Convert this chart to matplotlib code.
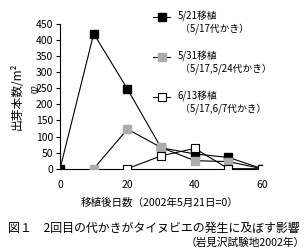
import matplotlib
matplotlib.use("Agg")
import numpy as np
import matplotlib.pyplot as plt
from matplotlib.legend_handler import HandlerLine2D

plt.rcParams['font.family'] = ['Noto Sans CJK JP', 'DejaVu Sans']

# データ
days_a = [0, 10, 20, 30, 40, 50, 60]
vals_a = [0, 420, 248, 65, 46, 35, 0]
days_b = [10, 20, 30, 40, 50, 60]
vals_b = [0, 123, 66, 25, 22, 0]
days_c = [20, 30, 40, 50, 60]
vals_c = [0, 40, 63, 0, 0]

label_a = "5/21移植\n （5/17代かき）"
label_b = "5/31移植\n （5/17,5/24代かき）"
label_c = "6/13移植\n （5/17,6/7代かき）"


# 凡例の記号を1行目の高さに寄せる
class UpHandler(HandlerLine2D):
    def create_artists(self, legend, orig_handle, xdescent, ydescent,
                       width, height, fontsize, trans):
        arts = super().create_artists(legend, orig_handle, xdescent, ydescent,
                                      width, height, fontsize, trans)
        for a in arts:
            a.set_ydata(np.asarray(a.get_ydata()) + 0.55 * fontsize)
        return arts


fig = plt.figure(figsize=(3.08, 2.49), dpi=100)
ax = fig.add_axes([0.195, 0.3225, 0.656, 0.581])

la, = ax.plot(days_a, vals_a, color='k', lw=0.8, marker='s', ms=5.8,
              mfc='k', mec='k', label=label_a, zorder=3)
lb, = ax.plot(days_b, vals_b, color='k', lw=0.8, marker='s', ms=5.8,
              mfc='#acacac', mec='#acacac', label=label_b, zorder=4)
lc, = ax.plot(days_c, vals_c, color='k', lw=0.8, marker='s', ms=5.8,
              mfc='white', mec='k', mew=0.8, label=label_c, zorder=5)

ax.set_xlim(0, 60)
ax.set_ylim(0, 450)
ax.set_xticks([0, 20, 40, 60])
ax.set_yticks(range(0, 451, 50))
ax.spines['top'].set_visible(False)
ax.spines['right'].set_visible(False)
ax.spines['left'].set_linewidth(0.8)
ax.spines['bottom'].set_linewidth(0.8)
ax.tick_params(axis='y', length=3, width=0.8, pad=2, labelsize=7.5)
ax.tick_params(axis='x', length=0, pad=8, labelsize=7.5)
for t in ax.get_xticklabels() + ax.get_yticklabels():
    t.set_clip_on(False)

ax.set_ylabel("出芽本数/m²", fontsize=8.5, labelpad=9)
fig.text(0.117, 0.645, "02", rotation=90, fontsize=6, ha='center', va='center')

fig.text(0.518, 0.185, "移植後日数（2002年5月21日=0）", fontsize=7.6, ha='center', va='center')
fig.text(0.025, 0.084, "図１　2回目の代かきがタイヌビエの発生に及ぼす影響",
         fontsize=8.6, ha='left', va='center')
fig.text(0.99, 0.024, "（岩見沢試験地2002年）", fontsize=7.7, ha='right', va='center')

ax.legend(handler_map={la: UpHandler(), lb: UpHandler(), lc: UpHandler()},
          loc='upper left', bbox_to_anchor=(0.48, 0.98), bbox_transform=fig.transFigure,
          frameon=False, fontsize=7, handlelength=1.75, handletextpad=0.8,
          labelspacing=1.7, borderaxespad=0.15)

fig.savefig("out.png", dpi=100)
